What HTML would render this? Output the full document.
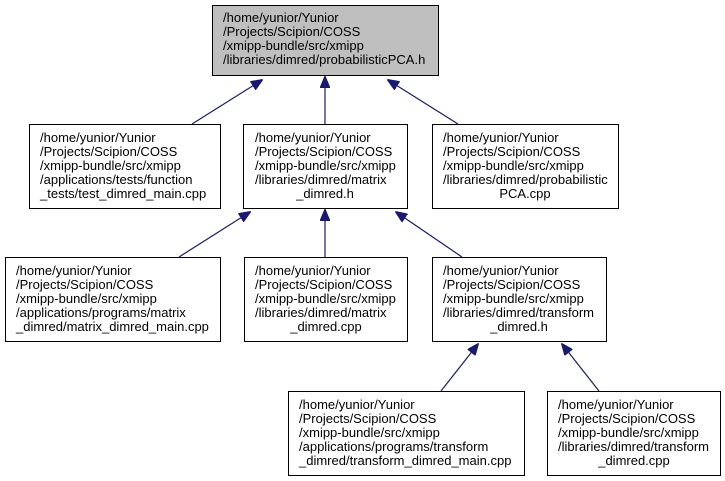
<!DOCTYPE html>
<html><head><meta charset="utf-8"><style>
html,body{margin:0;padding:0;background:#fff;width:725px;height:481px;overflow:hidden}
text{font-family:"Liberation Sans",Arial,sans-serif;font-size:13px;fill:#000}
</style></head><body>
<svg width="725" height="481" viewBox="0 0 725 481" xmlns="http://www.w3.org/2000/svg">
<defs><marker id="a" markerWidth="12" markerHeight="10" refX="1" refY="5" orient="auto" markerUnits="userSpaceOnUse"><path d="M12,0 L0,5 L12,10 z" fill="#191970" stroke="#191970"/></marker></defs>
<g stroke="#191970" stroke-width="1.2">
<line x1="262" y1="80" x2="192" y2="124" marker-start="url(#a)"/>
<line x1="325" y1="77" x2="325" y2="124" marker-start="url(#a)"/>
<line x1="388" y1="80" x2="458" y2="124" marker-start="url(#a)"/>
<line x1="250" y1="212" x2="179" y2="257" marker-start="url(#a)"/>
<line x1="325" y1="210" x2="325" y2="257" marker-start="url(#a)"/>
<line x1="396" y1="212" x2="462" y2="257" marker-start="url(#a)"/>
<line x1="478" y1="344" x2="441" y2="391" marker-start="url(#a)"/>
<line x1="562" y1="344" x2="599" y2="391" marker-start="url(#a)"/>
</g>
<g stroke="#000" stroke-width="1">
<rect x="212.5" y="5.5" width="226" height="70" fill="#bfbfbf"/>
<rect x="29.5" y="124.5" width="191" height="84" fill="#fff"/>
<rect x="243.5" y="124.5" width="164" height="84" fill="#fff"/>
<rect x="432.5" y="124.5" width="186" height="84" fill="#fff"/>
<rect x="5.5" y="257.5" width="215" height="84" fill="#fff"/>
<rect x="244.5" y="257.5" width="163" height="84" fill="#fff"/>
<rect x="432.5" y="257.5" width="174" height="84" fill="#fff"/>
<rect x="288.5" y="391.5" width="236" height="84" fill="#fff"/>
<rect x="547.5" y="391.5" width="173" height="84" fill="#fff"/>
</g>
<text x="223" y="22"><tspan x="223">/home/yunior/Yunior</tspan><tspan x="223" dy="14">/Projects/Scipion/COSS</tspan><tspan x="223" dy="14">/xmipp-bundle/src/xmipp</tspan><tspan x="223" dy="14">/libraries/dimred/probabilisticPCA.h</tspan></text>
<text x="40" y="142"><tspan x="40">/home/yunior/Yunior</tspan><tspan x="40" dy="14">/Projects/Scipion/COSS</tspan><tspan x="40" dy="14">/xmipp-bundle/src/xmipp</tspan><tspan x="40" dy="14">/applications/tests/function</tspan><tspan x="40" dy="14">_tests/test_dimred_main.cpp</tspan></text>
<text x="255" y="142"><tspan x="255">/home/yunior/Yunior</tspan><tspan x="255" dy="14">/Projects/Scipion/COSS</tspan><tspan x="255" dy="14">/xmipp-bundle/src/xmipp</tspan><tspan x="255" dy="14">/libraries/dimred/matrix</tspan><tspan x="325" dy="14" text-anchor="middle">_dimred.h</tspan></text>
<text x="443" y="142"><tspan x="443">/home/yunior/Yunior</tspan><tspan x="443" dy="14">/Projects/Scipion/COSS</tspan><tspan x="443" dy="14">/xmipp-bundle/src/xmipp</tspan><tspan x="443" dy="14">/libraries/dimred/probabilistic</tspan><tspan x="525" dy="14" text-anchor="middle">PCA.cpp</tspan></text>
<text x="16" y="275"><tspan x="16">/home/yunior/Yunior</tspan><tspan x="16" dy="14">/Projects/Scipion/COSS</tspan><tspan x="16" dy="14">/xmipp-bundle/src/xmipp</tspan><tspan x="16" dy="14">/applications/programs/matrix</tspan><tspan x="16" dy="14">_dimred/matrix_dimred_main.cpp</tspan></text>
<text x="255" y="275"><tspan x="255">/home/yunior/Yunior</tspan><tspan x="255" dy="14">/Projects/Scipion/COSS</tspan><tspan x="255" dy="14">/xmipp-bundle/src/xmipp</tspan><tspan x="255" dy="14">/libraries/dimred/matrix</tspan><tspan x="326" dy="14" text-anchor="middle">_dimred.cpp</tspan></text>
<text x="443" y="275"><tspan x="443">/home/yunior/Yunior</tspan><tspan x="443" dy="14">/Projects/Scipion/COSS</tspan><tspan x="443" dy="14">/xmipp-bundle/src/xmipp</tspan><tspan x="443" dy="14">/libraries/dimred/transform</tspan><tspan x="519" dy="14" text-anchor="middle">_dimred.h</tspan></text>
<text x="299" y="409"><tspan x="299">/home/yunior/Yunior</tspan><tspan x="299" dy="14">/Projects/Scipion/COSS</tspan><tspan x="299" dy="14">/xmipp-bundle/src/xmipp</tspan><tspan x="299" dy="14">/applications/programs/transform</tspan><tspan x="299" dy="14">_dimred/transform_dimred_main.cpp</tspan></text>
<text x="558" y="409"><tspan x="558">/home/yunior/Yunior</tspan><tspan x="558" dy="14">/Projects/Scipion/COSS</tspan><tspan x="558" dy="14">/xmipp-bundle/src/xmipp</tspan><tspan x="558" dy="14">/libraries/dimred/transform</tspan><tspan x="634" dy="14" text-anchor="middle">_dimred.cpp</tspan></text>
</svg>
</body></html>
